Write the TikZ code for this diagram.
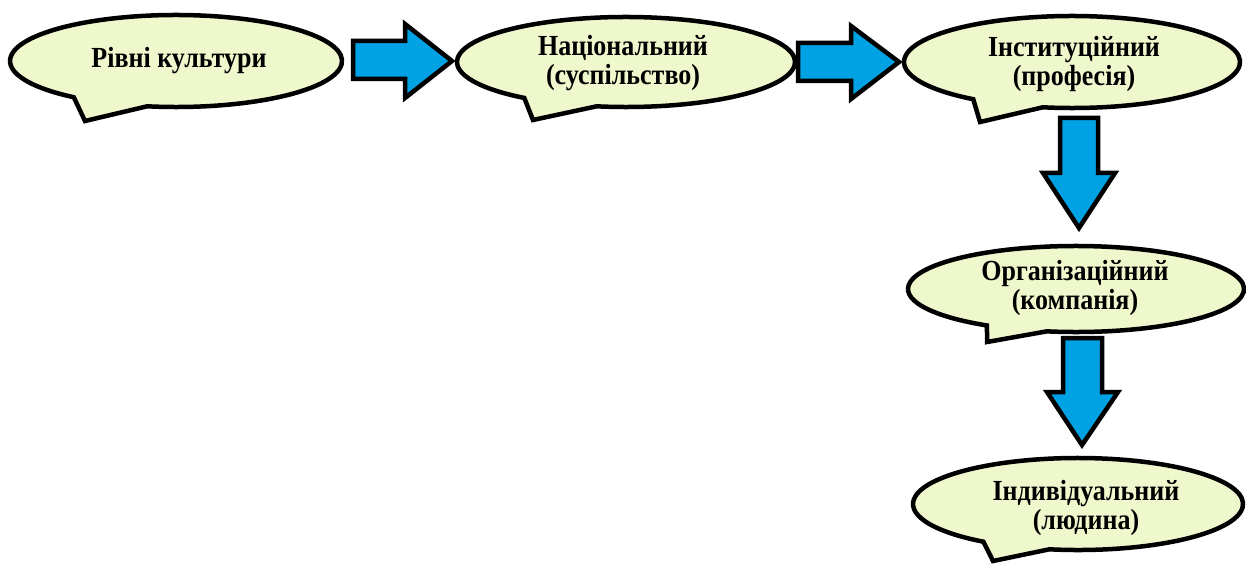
\documentclass[tikz,border=0pt]{standalone}
\usepackage{fontspec}
\usepackage{graphicx}
\setmainfont{Liberation Serif}
\usetikzlibrary{calc}
\definecolor{bubblefill}{RGB}{239,248,205}
\definecolor{arrowblue}{RGB}{0,162,228}
\newcommand\speechbubble[8]{%
  \draw[bubble] ($(#1,#2)+(#6:#3 and #4)$) arc[start angle=#6, end angle=#5-360, x radius=#3, y radius=#4] -- (#7,#8) -- cycle;}
\newcommand\tl[1]{\scalebox{1}[1.12]{#1}}
\begin{document}
\begin{tikzpicture}[x=1pt,y=-1pt,
  bubble/.style={draw=black, line width=4.5pt, fill=bubblefill, line join=miter},
  blockarrow/.style={draw=black, line width=4.5pt, fill=arrowblue, line join=miter},
  txt/.style={font=\bfseries\fontsize{26}{29}\selectfont, align=center, inner sep=0pt}]
\useasboundingbox (0,0) rectangle (1246,564);
% bubbles
\speechbubble{176}{61}{166}{46}{128}{100}{85}{121}
\speechbubble{626}{62}{169}{45}{127}{100}{533}{120}
\speechbubble{1072}{62}{168}{46}{126}{100}{980}{122}
\speechbubble{1076}{289}{168}{43}{122}{100}{987}{342}
\speechbubble{1078}{504}{165}{46}{125}{100}{993}{561}
% texts
\node[txt] (b1) at (179,61) {\tl{Рівні культури}};
\node[txt] (b2) at (623,63) {\tl{Національний}\\\tl{(суспільство)}};
\node[txt] (b3) at (1074,64) {\tl{Інституційний}\\\tl{(професія)}};
\node[txt] (b4) at (1075,288) {\tl{Організаційний}\\\tl{(компанія)}};
\node[txt] (b5) at (1086,508) {\tl{Індивідуальний}\\\tl{(людина)}};
% arrows
\draw[blockarrow] (353,41) -- (405,41) -- (405,24) -- (452,61) -- (405,98) -- (405,79) -- (353,79) -- cycle;
\draw[blockarrow] (798,43) -- (851,43) -- (851,26) -- (899,62) -- (851,99) -- (851,81) -- (798,81) -- cycle;
\draw[blockarrow] (1060,118) -- (1098,118) -- (1098,173) -- (1115,173) -- (1079,228) -- (1043,173) -- (1060,173) -- cycle;
\draw[blockarrow] (1063,338) -- (1102,338) -- (1102,392) -- (1118,392) -- (1082,445) -- (1047,392) -- (1063,392) -- cycle;
\end{tikzpicture}
\end{document}
